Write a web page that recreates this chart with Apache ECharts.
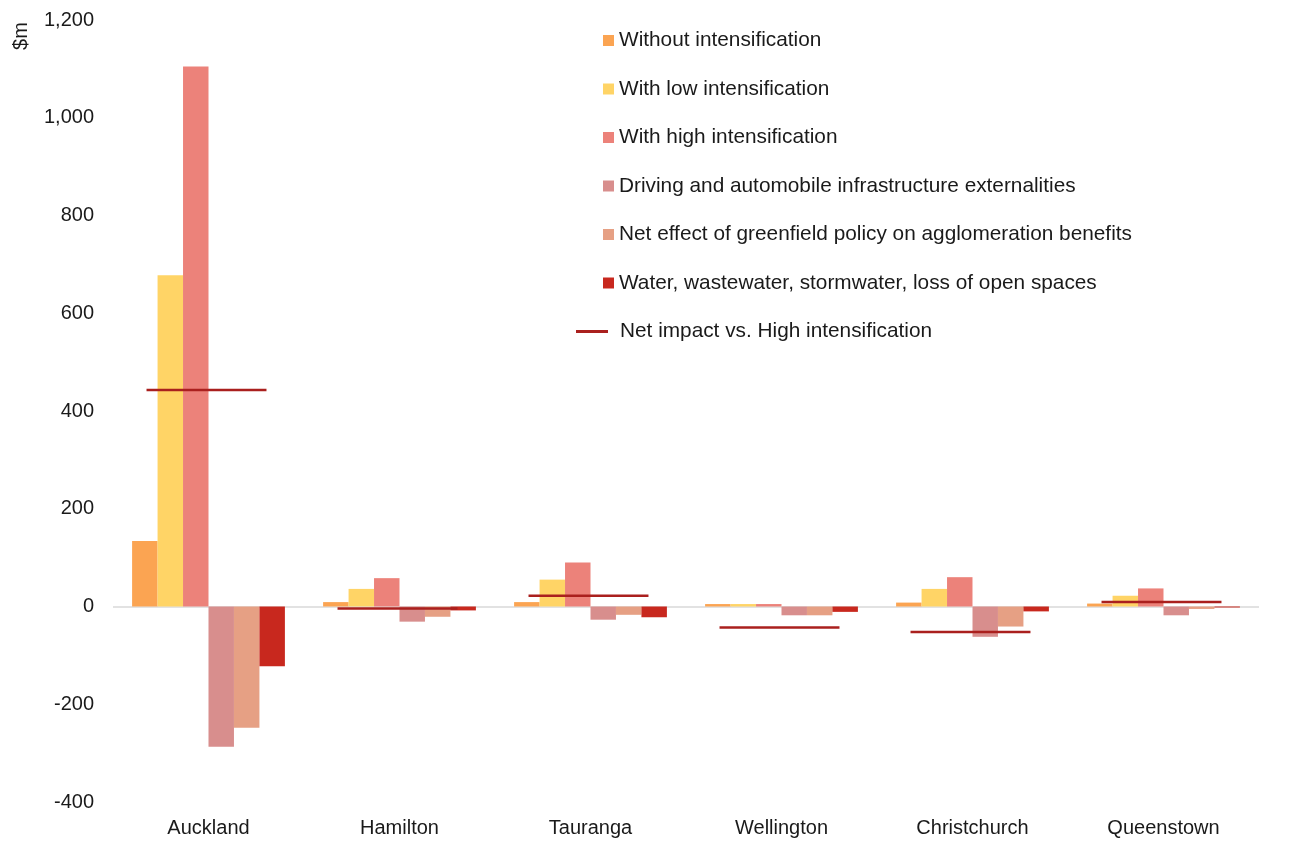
<!DOCTYPE html>
<html>
<head>
<meta charset="utf-8">
<script src="https://cdn.jsdelivr.net/npm/echarts@6/dist/echarts.min.js"></script>
<style>
  html, body { margin: 0; padding: 0; background: #fff; }
  #chart { width: 1301px; height: 841px; }
</style>
</head>
<body>
<div id="chart"></div>
<script>
// categories and series values ($m)
const cities = ['Auckland', 'Hamilton', 'Tauranga', 'Wellington', 'Christchurch', 'Queenstown'];
const withoutInt = [134, 9, 9, 5, 8, 6];
const lowInt = [678, 36, 55, 5, 36, 22];
const highInt = [1105, 58, 90, 5, 60, 37];
const driving = [-287, -31, -27, -18, -62, -18];
const greenfield = [-248, -21, -17, -18, -41, -5];
const water = [-122, -8, -22, -11, -10, -2];
const netImpact = [443, -4, 22, -43, -52, 9];
const yTicks = { min: -400, max: 1200, step: 200 };

const font = 'Liberation Sans, Arial, sans-serif';

const barSeries = [
    ['Without intensification', withoutInt, '#FBA452'],
    ['With low intensification', lowInt, '#FFD466'],
    ['With high intensification', highInt, '#EC827A'],
    ['Driving and automobile infrastructure externalities', driving, '#D88E8D'],
    ['Net effect of greenfield policy on agglomeration benefits', greenfield, '#E6A084'],
    ['Water, wastewater, stormwater, loss of open spaces', water, '#C8281E'],
].map(([name, data, color], i) => ({
    name,
    type: 'bar',
    data,
    barGap: '0%',
    barCategoryGap: '20%',
    itemStyle: { color },
    markLine: i === 0 ? {
        silent: true,
        symbol: 'none',
        label: { show: false },
        lineStyle: { color: '#d9d9d9', type: 'solid', width: 1.5 },
        data: [{ yAxis: 0 }],
        z: 1,
    } : undefined,
}));

const lineName = 'Net impact vs. High intensification';

const option = {
    animation: false,
    grid: { left: 113, right: 42, top: 20, bottom: 39 },
    xAxis: {
        type: 'category',
        data: cities,
        axisLine: { show: false },
        axisTick: { show: false },
        axisLabel: { color: '#1a1a1a', fontSize: 20, fontFamily: font, margin: 16 },
    },
    yAxis: {
        type: 'value',
        min: yTicks.min,
        max: yTicks.max,
        interval: yTicks.step,
        splitLine: { show: false },
        axisLine: { show: false },
        axisTick: { show: false },
        axisLabel: {
            color: '#1a1a1a', fontSize: 20, fontFamily: font, margin: 19,
            formatter: (v) => v.toLocaleString('en-US'),
        },
    },
    legend: [
        {
            orient: 'vertical',
            left: 598,
            top: 25,
            itemWidth: 11,
            itemHeight: 11,
            itemGap: 27.5,
            icon: 'rect',
            data: barSeries.map((s) => s.name),
            textStyle: { color: '#1a1a1a', fontSize: 20.8, fontFamily: font, lineHeight: 20 },
        },
        {
            orient: 'vertical',
            left: 571,
            top: 316,
            itemWidth: 32,
            itemHeight: 3,
            icon: 'rect',
            data: [lineName],
            textStyle: { color: '#1a1a1a', fontSize: 20.8, fontFamily: font, lineHeight: 20, padding: [0, 0, 0, 7] },
        },
    ],
    graphic: [{
        type: 'text',
        x: 21,
        y: 36,
        rotation: Math.PI / 2,
        style: {
            text: '$m', font: '20px ' + font, fill: '#1a1a1a',
            textAlign: 'center', textVerticalAlign: 'middle',
        },
    }],
    series: [
        ...barSeries,
        {
            name: lineName,
            type: 'custom',
            data: netImpact,
            itemStyle: { color: '#AA201E' },
            z: 5,
            renderItem: (params, api) => {
                const pt = api.coord([api.value(0), api.value(1)]);
                const w = api.size([1, 0])[0] * 0.628;
                const cx = pt[0] - 2;
                return {
                    type: 'line',
                    shape: { x1: cx - w / 2, y1: pt[1], x2: cx + w / 2, y2: pt[1] },
                    style: { stroke: '#AA201E', lineWidth: 2.5 },
                };
            },
            encode: { x: 0, y: 1 },
        },
    ],
};

const chart = echarts.init(document.getElementById('chart'));
chart.setOption(option);
</script>
</body>
</html>
